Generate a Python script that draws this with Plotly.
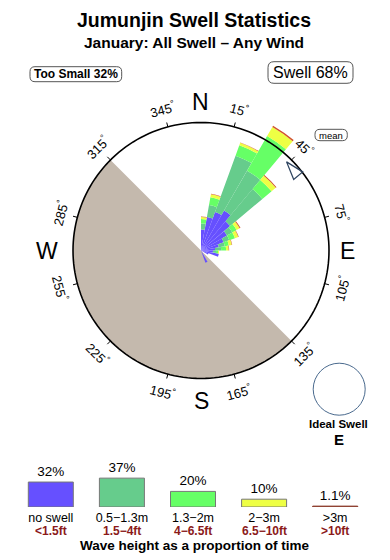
import math
import plotly.graph_objects as go

# ---------------- data ----------------
directions = [5, 15, 25, 35, 45, 55, 65, 75, 85, 95, 105, 115, 155]
no_swell   = [1.31, 2.13, 2.56, 2.88, 2.38, 1.88, 1.50, 1.13, 0.88, 0.75, 1.13, 0.50, 0.81]
h_05_13    = [0.38, 0.75, 3.75, 2.88, 2.63, 0.38, 0.38, 0.38, 0.38, 0.19, 0.00, 0.00, 0.00]
h_13_2     = [0.28, 0.50, 0.69, 2.50, 0.75, 0.31, 0.38, 0.25, 0.31, 0.13, 0.00, 0.00, 0.00]
h_2_3      = [0.13, 0.19, 0.16, 0.66, 0.34, 0.22, 0.22, 0.19, 0.16, 0.06, 0.00, 0.00, 0.00]
h_3_plus   = [0.03, 0.03, 0.03, 0.09, 0.06, 0.06, 0.03, 0.03, 0.03, 0.00, 0.00, 0.00, 0.00]

circle_r = 8.0           # radius of the outer ring (rose units)
shadow_dir = 225         # sheltered half, centre direction
shadow_width = 180
mean_dir = 44
mean_r = 7.7

tick_angles = [15, 45, 75, 105, 135, 165, 195, 225, 255, 285, 315, 345]
compass = [("N", 0), ("E", 90), ("S", 180), ("W", 270)]

legend_cats = ["no swell", "0.5−1.3m", "1.3−2m", "2−3m", ">3m"]
legend_ft   = ["&lt;1.5ft", "1.5−4ft", "4−6.5ft", "6.5−10ft", "&gt;10ft"]
legend_pct  = [32, 37, 20, 10, 1.1]

colors = ["#6650FF", "#66CC8C", "#66FF66", "#EEFF44", "#D2532E"]
legend_colors = ["#6650FF", "#66CC8C", "#66FF66", "#EEFF44", "#8B3A2A"]

# ---------------- layout helpers ----------------
W, H = 390, 560
CX, CY = 201, 250.5      # rose centre in px
RO = 150                 # polar domain radius px
R_PX = 16.0              # px per rose unit
FONT = "Liberation Sans, Arial, Helvetica, sans-serif"


def px(x, y):
    return x / W, 1 - y / H


def rrect(x0, y0, x1, y1, r):
    def p(x, y):
        a, b = px(x, y)
        return f"{a:.5f},{b:.5f}"
    d = (f"M {p(x0+r,y0)} L {p(x1-r,y0)} Q {p(x1,y0)} {p(x1,y0+r)} "
         f"L {p(x1,y1-r)} Q {p(x1,y1)} {p(x1-r,y1)} L {p(x0+r,y1)} "
         f"Q {p(x0,y1)} {p(x0,y1-r)} L {p(x0,y0+r)} Q {p(x0,y0)} {p(x0+r,y0)} Z")
    return dict(type="path", path=d, xref="paper", yref="paper",
                line=dict(color="#555555", width=1), fillcolor="rgba(0,0,0,0)")


fig = go.Figure()

# sheltered half
fig.add_trace(go.Barpolar(r=[circle_r], theta=[shadow_dir], width=[shadow_width],
                          marker=dict(color="#C4B9AD", line=dict(width=0)),
                          hoverinfo="skip"))

bands = [no_swell, h_05_13, h_13_2, h_2_3, h_3_plus]
for vals, col in zip(bands, colors):
    fig.add_trace(go.Barpolar(r=vals, theta=directions, width=[10] * len(directions),
                              marker=dict(color=col, line=dict(width=0))))

# outer ring
ring_theta = list(range(0, 361, 2))
fig.add_trace(go.Scatterpolar(r=[circle_r] * len(ring_theta), theta=ring_theta, mode="lines",
                              line=dict(color="black", width=1.6), hoverinfo="skip"))
# tick marks
tr, tt = [], []
for a in tick_angles:
    tr += [circle_r, circle_r * 1.035, None]
    tt += [a, a, None]
fig.add_trace(go.Scatterpolar(r=tr, theta=tt, mode="lines",
                              line=dict(color="black", width=1), hoverinfo="skip"))
# mean arrow
fig.add_trace(go.Scatterpolar(r=[mean_r], theta=[mean_dir], mode="markers",
                              marker=dict(symbol="arrow-open", size=19, angle=-40,
                                          color="#2E4460", line=dict(width=1.3, color="#2E4460"))))

# legend bars
fig.add_trace(go.Bar(x=legend_cats, y=legend_pct,
                     marker=dict(color=legend_colors,
                                 line=dict(color=["#777777"] * 4 + ["#8B3A2A"], width=1)),
                     text=[f"{v:g}%" for v in legend_pct], textposition="outside",
                     textfont=dict(size=13.5, color="black", family=FONT),
                     cliponaxis=False, xaxis="x", yaxis="y"))

annotations = []
def ann(x, y, text, size, bold=False, color="black", angle=0, **kw):
    ax, ay = px(x, y)
    annotations.append(dict(x=ax, y=ay, xref="paper", yref="paper", showarrow=False,
                            text=f"<b>{text}</b>" if bold else text, textangle=angle,
                            font=dict(size=size, color=color, family=FONT),
                            xanchor="center", yanchor="middle", **kw))

ann(194, 20, "Jumunjin Swell Statistics", 19.5, bold=True)
ann(194, 43, "January: All Swell – Any Wind", 15.5, bold=True)
ann(76, 74.2, "Too Small 32%", 12, bold=True)
ann(310.5, 72.5, "Swell 68%", 16)
ann(331, 135, "mean", 9.5)
ann(338.5, 423.5, "Ideal Swell", 11.5, bold=True)
ann(339, 439, "E", 15, bold=True)
ann(195, 545, "Wave height as a proportion of time", 13.5, bold=True)

compass_r = {"N": 149, "E": 146, "S": 150, "W": 154}
for name, a in compass:
    rr = compass_r[name]
    ann(CX + rr * math.sin(math.radians(a)), CY - rr * math.cos(math.radians(a)), name, 23)

for a in tick_angles:
    rr = 146
    ann(CX + rr * math.sin(math.radians(a)), CY - rr * math.cos(math.radians(a)),
        f"{a}<sup>°</sup>", 13, angle=((a + 90) % 180) - 90)

for cat, ft in zip(legend_cats, legend_ft):
    annotations.append(dict(x=cat, xref="x", y=px(0, 530.5)[1], yref="paper", showarrow=False,
                            text=f"<b>{ft}</b>", font=dict(size=12, color="#8B1A1A", family=FONT),
                            xanchor="center", yanchor="middle"))

shapes = [rrect(30, 66.7, 121.7, 81.7, 5), rrect(268, 61.7, 353, 83.3, 6),
          rrect(315, 129.3, 347.3, 140.7, 5)]
c0 = px(339.2 - 26, 389.2 + 26)
c1 = px(339.2 + 26, 389.2 - 26)
shapes.append(dict(type="circle", xref="paper", yref="paper", x0=c0[0], y0=c0[1], x1=c1[0], y1=c1[1],
                   line=dict(color="#4A6A8E", width=1)))

dom_x = [(CX - RO) / W, (CX + RO) / W]
dom_y = [1 - (CY + RO) / H, 1 - (CY - RO) / H]

fig.update_layout(
    width=W, height=H, margin=dict(l=0, r=0, t=0, b=0),
    paper_bgcolor="white", plot_bgcolor="white", showlegend=False,
    font=dict(family=FONT, color="black"),
    polar=dict(domain=dict(x=dom_x, y=dom_y), bgcolor="rgba(0,0,0,0)", barmode="stack",
               radialaxis=dict(range=[0, RO / R_PX], visible=False),
               angularaxis=dict(rotation=90, direction="clockwise", visible=False)),
    xaxis=dict(domain=[15.25 / W, 370.75 / W], type="category", showgrid=False, zeroline=False,
               showline=False, ticks="", ticklabelstandoff=1,
               tickfont=dict(size=12.5, color="black", family=FONT)),
    yaxis=dict(domain=[1 - 507 / H, 1 - (507 - 45 * 0.78) / H], range=[0, 45], visible=False),
    bargap=0.367,
    annotations=annotations, shapes=shapes,
)

fig.write_html("out.html")
